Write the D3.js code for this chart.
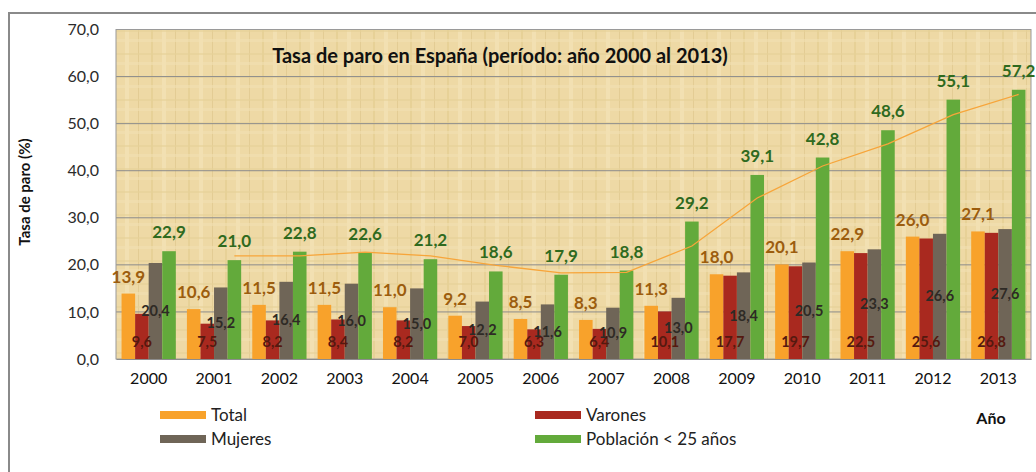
<!DOCTYPE html>
<html>
<head>
<meta charset="utf-8">
<script src="https://cdn.jsdelivr.net/npm/d3@7"></script>
<style>
  body { margin: 0; background: #fff; }
  svg { display: block; font-family: Lato, "Open Sans", sans-serif; }
</style>
</head>
<body>
<script>
var years = ["2000","2001","2002","2003","2004","2005","2006","2007","2008","2009","2010","2011","2012","2013"];
var total   = [13.9,10.6,11.5,11.5,11.0,9.2,8.5,8.3,11.3,18.0,20.1,22.9,26.0,27.1];
var varones = [9.6,7.5,8.2,8.4,8.2,7.0,6.3,6.4,10.1,17.7,19.7,22.5,25.6,26.8];
var mujeres = [20.4,15.2,16.4,16.0,15.0,12.2,11.6,10.9,13.0,18.4,20.5,23.3,26.6,27.6];
var jovenes = [22.9,21.0,22.8,22.6,21.2,18.6,17.9,18.8,29.2,39.1,42.8,48.6,55.1,57.2];
// moving-average trend line (period 2), from 2001 on
var trendYears = years.slice(1);
var trend = [21.9,21.9,22.7,21.9,19.9,18.3,18.4,24.0,34.2,41.0,45.7,51.9,56.2];
var yTicks = [0,10,20,30,40,50,60,70];

var series = [
  {key: "Total", values: total, color: "#f8a22b"},
  {key: "Varones", values: varones, color: "#a9291f"},
  {key: "Mujeres", values: mujeres, color: "#6f6557"},
  {key: "Población < 25 años", values: jovenes, color: "#63aa3b"}
];

var W = 1036, H = 472;
var plotL = 116, plotR = 1031, plotT = 29.5, plotB = 359;

var svg = d3.select("body").append("svg")
    .attr("width", W)
    .attr("height", H);

// papyrus-like texture
var defs = svg.append("defs");
var pat = defs.append("pattern")
    .attr("id", "papyrus")
    .attr("patternUnits", "userSpaceOnUse")
    .attr("width", 37).attr("height", 23);
pat.append("rect").attr("width", 37).attr("height", 23).attr("fill", "#eed9a5");
pat.append("rect").attr("x", 3).attr("width", 2).attr("height", 23).attr("fill", "#e4cd92").attr("opacity", 0.7);
pat.append("rect").attr("x", 14).attr("width", 4).attr("height", 23).attr("fill", "#f4e3b8").attr("opacity", 0.7);
pat.append("rect").attr("x", 27).attr("width", 1).attr("height", 23).attr("fill", "#dcc388").attr("opacity", 0.6);
pat.append("rect").attr("y", 7).attr("width", 37).attr("height", 2).attr("fill", "#e6d098").attr("opacity", 0.6);
pat.append("rect").attr("y", 16).attr("width", 37).attr("height", 3).attr("fill", "#f2e0b2").attr("opacity", 0.6);

// outer frame
svg.append("rect")
    .attr("x", 9).attr("y", 13)
    .attr("width", W + 20).attr("height", H + 20)
    .attr("fill", "#fff")
    .attr("stroke", "#8a8a8a")
    .attr("stroke-width", 2);

var x0 = d3.scaleBand().domain(years).range([plotL, plotR]).paddingInner(0.17).paddingOuter(0.085);
var x1 = d3.scaleBand().domain(series.map(function(s){ return s.key; })).range([0, x0.bandwidth()]);
var y = d3.scaleLinear().domain([0, 70]).range([plotB, plotT]);

svg.append("rect")
    .attr("x", plotL).attr("y", plotT)
    .attr("width", plotR - plotL).attr("height", plotB - plotT)
    .attr("fill", "url(#papyrus)");

// grid
svg.append("g").selectAll("line")
    .data(yTicks.slice(1))
    .enter().append("line")
    .attr("x1", plotL).attr("x2", plotR)
    .attr("y1", function(d){ return y(d); })
    .attr("y2", function(d){ return y(d); })
    .attr("stroke", "#8c8c8c")
    .attr("stroke-width", 1);

// plot border
svg.append("rect")
    .attr("x", plotL).attr("y", plotT)
    .attr("width", plotR - plotL).attr("height", plotB - plotT)
    .attr("fill", "none")
    .attr("stroke", "#9a9a9a");

// y axis
var yAxis = d3.axisLeft(y)
    .tickValues(yTicks)
    .tickSize(0)
    .tickPadding(17)
    .tickFormat(function(d){ return d3.format(".1f")(d).replace(".", ","); });
var ga = svg.append("g").attr("transform", "translate(" + plotL + ",0)").call(yAxis);
ga.select(".domain").remove();
ga.selectAll("text").attr("font-size", 16).attr("fill", "#2b2b2b").attr("font-family", "Lato, sans-serif");

// x axis
var xAxis = d3.axisBottom(x0).tickSize(0).tickPadding(14);
var gx = svg.append("g").attr("transform", "translate(0," + plotB + ")").call(xAxis);
gx.select(".domain").attr("stroke", "#8c8c8c");
gx.selectAll("text").attr("font-size", 16).attr("fill", "#111").attr("font-family", "Lato, sans-serif");

// bars
var groups = svg.append("g").selectAll("g")
    .data(years)
    .enter().append("g")
    .attr("transform", function(d){ return "translate(" + x0(d) + ",0)"; });

series.forEach(function(s) {
  groups.append("rect")
      .attr("x", x1(s.key))
      .attr("width", x1.bandwidth())
      .attr("y", function(d, i){ return y(s.values[i]); })
      .attr("height", function(d, i){ return plotB - y(s.values[i]); })
      .attr("fill", s.color);
});

// trend line
var line = d3.line()
    .x(function(d, i){ return x0(trendYears[i]) + x1("Población < 25 años") + x1.bandwidth() / 2; })
    .y(function(d){ return y(d); });
svg.append("path")
    .datum(trend)
    .attr("d", line)
    .attr("fill", "none")
    .attr("stroke", "#f7a53a")
    .attr("stroke-width", 1.3);

function fmt(v) { return d3.format(".1f")(v).replace(".", ","); }

// labels
groups.append("text")
    .attr("x", x1("Total") + x1.bandwidth() / 2)
    .attr("y", function(d, i){ return y(total[i]) - 11; })
    .attr("text-anchor", "middle")
    .attr("font-size", 17).attr("font-weight", "bold")
    .attr("fill", "#9c5d0e")
    .text(function(d, i){ return fmt(total[i]); });

groups.append("text")
    .attr("x", x1("Varones") + x1.bandwidth() / 2)
    .attr("y", 347)
    .attr("text-anchor", "middle")
    .attr("font-size", 14.5).attr("font-weight", "bold")
    .attr("fill", "#55190f")
    .text(function(d, i){ return fmt(varones[i]); });

groups.append("text")
    .attr("x", x1("Mujeres") + x1.bandwidth() / 2)
    .attr("y", function(d, i){ return (y(mujeres[i]) + plotB) / 2 + 5; })
    .attr("text-anchor", "middle")
    .attr("font-size", 14.5).attr("font-weight", "bold")
    .attr("fill", "#2e2a25")
    .text(function(d, i){ return fmt(mujeres[i]); });

groups.append("text")
    .attr("x", x1("Población < 25 años") + x1.bandwidth() / 2)
    .attr("y", function(d, i){ return y(jovenes[i]) - 13; })
    .attr("text-anchor", "middle")
    .attr("font-size", 17).attr("font-weight", "bold")
    .attr("fill", "#2f6a1e")
    .text(function(d, i){ return fmt(jovenes[i]); });

// title
svg.append("text")
    .attr("x", 500).attr("y", 63)
    .attr("text-anchor", "middle")
    .attr("font-size", 20).attr("font-weight", "bold")
    .attr("fill", "#111")
    .text("Tasa de paro en España (período: año 2000 al 2013)");

// y axis title
svg.append("text")
    .attr("transform", "translate(30,192) rotate(-90)")
    .attr("text-anchor", "middle")
    .attr("font-size", 15).attr("font-weight", "bold")
    .attr("fill", "#111")
    .text("Tasa de paro (%)");

// x axis title
svg.append("text")
    .attr("x", 991).attr("y", 424)
    .attr("text-anchor", "middle")
    .attr("font-size", 16).attr("font-weight", "bold")
    .attr("fill", "#111")
    .text("Año");

// legend
var legendPos = [[160, 415], [535, 415], [160, 439], [535, 439]];
var legend = svg.append("g").selectAll("g")
    .data(series)
    .enter().append("g")
    .attr("transform", function(d, i){ return "translate(" + legendPos[i][0] + "," + legendPos[i][1] + ")"; });
legend.append("rect")
    .attr("x", 0).attr("y", -4)
    .attr("width", 46).attr("height", 8)
    .attr("fill", function(d){ return d.color; });
legend.append("text")
    .attr("x", 51).attr("y", 6)
    .attr("font-size", 17)
    .attr("fill", "#222")
    .text(function(d){ return d.key; });
</script>
</body>
</html>
